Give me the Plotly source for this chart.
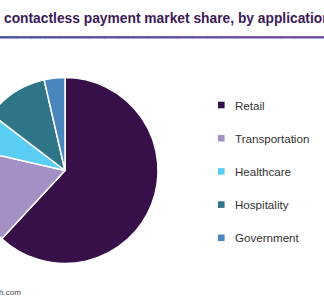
import plotly.graph_objects as go

# ---- data ----
labels = ["Retail", "Transportation", "Healthcare", "Hospitality", "Government"]
shares = [61.9, 16.7, 6.8, 11.0, 3.6]
colors = ["#37104a", "#a391c6", "#5acdf4", "#2e7587", "#4a86be"]
title_text = "contactless payment market share, by application"
source_text = "Source: www.grandviewresearch.com"

# ---- geometry helpers (figure is wider; left part is hidden off-window) ----
W, H = 352, 300
OFF = W - 324


def px(x):
    return (x + OFF) / W


def py(y):
    return 1 - y / H


cx, cy, r = 65, 170.5, 93

fig = go.Figure(
    go.Pie(
        labels=labels,
        values=shares,
        sort=False,
        direction="clockwise",
        rotation=0,
        textinfo="none",
        hoverinfo="label+percent",
        marker=dict(colors=colors, line=dict(color="white", width=1.5)),
        domain=dict(x=[px(cx - r), px(cx + r)], y=[py(cy + r), py(cy - r)]),
        showlegend=False,
    )
)

shapes = []
annotations = []

# title underline with a blue-to-purple gradient
c0 = (0x4b, 0x4f, 0xa3)
c1 = (0x70, 0x4e, 0x9f)
nseg = 24
for i in range(nseg):
    t = i / (nseg - 1)
    col = "rgb({},{},{})".format(*[round(a + (b - a) * t) for a, b in zip(c0, c1)])
    shapes.append(dict(type="line", xref="paper", yref="paper",
                       x0=i / nseg, x1=(i + 1) / nseg + 0.002, y0=py(37.3), y1=py(37.3),
                       line=dict(color=col, width=2.4)))

annotations.append(dict(text=title_text, xref="paper", yref="paper",
                        x=px(2), y=py(18.5), xanchor="left", yanchor="middle",
                        showarrow=False,
                        font=dict(family="Arial, Liberation Sans", size=13.8,
                                  color="#3b1a57", weight="bold")))

annotations.append(dict(text=source_text, xref="paper", yref="paper",
                        x=px(23), y=py(292), xanchor="right", yanchor="middle",
                        showarrow=False,
                        font=dict(family="Arial, Liberation Sans", size=8, color="#444444")))

# manual legend
for i, (lab, col) in enumerate(zip(labels, colors)):
    yc = 105 + 33.2 * i
    shapes.append(dict(type="rect", xref="paper", yref="paper",
                       x0=px(218), x1=px(224.6), y0=py(yc + 3.3), y1=py(yc - 3.3),
                       fillcolor=col, line=dict(width=0)))
    annotations.append(dict(text=lab, xref="paper", yref="paper",
                            x=px(233), y=py(yc), xanchor="left", yanchor="middle",
                            showarrow=False,
                            font=dict(family="Arial, Liberation Sans", size=11.6, color="#333333")))

fig.update_layout(
    width=W, height=H,
    margin=dict(l=0, r=0, t=0, b=0),
    paper_bgcolor="white", plot_bgcolor="white",
    shapes=shapes, annotations=annotations,
)

post = (
    "document.body.style.margin='0';"
    "document.body.style.overflow='hidden';"
    "var d=document.getElementById('{plot_id}');"
    "d.style.marginLeft='-" + str(OFF) + "px';"
)

fig.write_html("out.html", post_script=post, config=dict(displayModeBar=False))
